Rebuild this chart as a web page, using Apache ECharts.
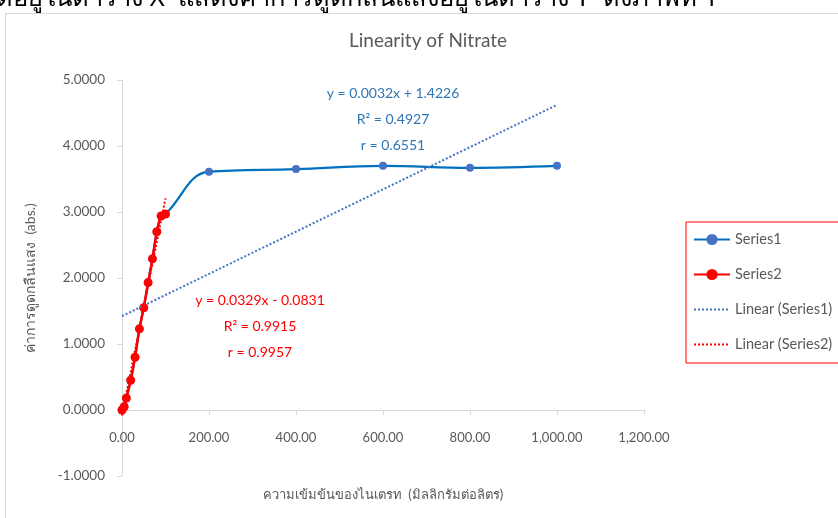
<!DOCTYPE html>
<html>
<head>
<meta charset="utf-8">
<script src="https://cdn.jsdelivr.net/npm/echarts@6/dist/echarts.min.js"></script>
<style>
html,body{margin:0;padding:0;background:#fff;}
#c{width:838px;height:518px;}
</style>
</head>
<body>
<div id="c"></div>
<script>
// ---- data ----
const concentration = [0, 5, 10, 20, 30, 40, 50, 60, 70, 80, 90, 100, 200, 400, 600, 800, 1000];
const series1Abs   = [0, 0.05, 0.18, 0.45, 0.80, 1.23, 1.55, 1.93, 2.29, 2.70, 2.94, 2.97, 3.61, 3.65, 3.70, 3.67, 3.70];
const series2Conc  = [0, 5, 10, 20, 30, 40, 50, 60, 70, 80, 90, 100];
const series2Abs   = [0, 0.05, 0.18, 0.45, 0.80, 1.23, 1.55, 1.93, 2.29, 2.70, 2.94, 2.97];
const trendSlope     = [0.0032, 0.0329];
const trendIntercept = [1.4226, -0.0831];
const trendXRange    = [[0, 1000], [0, 100]];
const seriesNames = ['Series1', 'Series2', 'Linear (Series1)', 'Linear (Series2)'];
const eqLabels1 = ['y = 0.0032x + 1.4226', 'R² = 0.4927', 'r = 0.6551'];
const eqLabels2 = ['y = 0.0329x - 0.0831', 'R² = 0.9915', 'r = 0.9957'];
const chartTitle = 'Linearity of Nitrate';
const xAxisTitle = 'ความเข้มข้นของไนเตรท  (มิลลิกรัมต่อลิตร)';
const yAxisTitle = 'ค่าการดูดกลืนแสง  (abs.)';
const captionText = 'ดอยู่ในตาราง X  แสดงค่าการดูดกลืนแสงอยู่ในตาราง Y  ดังภาพที่ 1';

const zip = (xs, ys) => xs.map((x, i) => [x, ys[i]]);
const trendData = k => trendXRange[k].map(x => [x, trendSlope[k] * x + trendIntercept[k]]);

const FONT = 'Lato';
const GRAY = '#595959';
const AXIS = '#D9D9D9';
const BLUE_LINE = '#0070C0';
const BLUE_MK = '#4472C4';
const RED = '#FF0000';
const BLUE_TXT = '#2E75B6';
const CLEAR = 'rgba(0,0,0,0)';

const chart = echarts.init(document.getElementById('c'), null, {renderer: 'canvas'});

function eqGraphic(lines, cx, y0, color) {
  return lines.map((t, i) => ({
    type: 'text', x: cx, y: y0 + i * 26, z: 100,
    style: {text: t, fill: color, font: '14px ' + FONT, align: 'center', verticalAlign: 'middle'}
  }));
}

chart.setOption({
  animation: false,
  backgroundColor: '#fff',
  title: {
    text: chartTitle, left: 428, top: 31, textAlign: 'center', padding: 0,
    textStyle: {color: GRAY, fontFamily: FONT, fontSize: 19, fontWeight: 'normal'}
  },
  graphic: [
    {type: 'rect', shape: {x: 5.5, y: 13.5, width: 900, height: 600}, style: {fill: 'none', stroke: AXIS, lineWidth: 1}, z: -10},
    {type: 'text', x: -4, y: 12, style: {text: captionText, fill: '#000', font: '25.5px "Noto Sans", sans-serif', verticalAlign: 'bottom'}},
    ...eqGraphic(eqLabels1, 393, 93, BLUE_TXT),
    ...eqGraphic(eqLabels2, 260, 300, RED)
  ],
  legend: {
    orient: 'vertical', left: 686, top: 222,
    data: seriesNames,
    borderColor: RED, borderWidth: 1,
    padding: [10, 40, 11, 7],
    itemWidth: 36, itemHeight: 14, itemGap: 20,
    textStyle: {color: GRAY, fontFamily: FONT, fontSize: 14.5}
  },
  grid: {left: 122, top: 80, width: 522, height: 396, containLabel: false, outerBoundsMode: 'none'},
  xAxis: {
    type: 'value', min: 0, max: 1200, interval: 200,
    name: xAxisTitle, nameLocation: 'middle', nameGap: 12,
    nameTextStyle: {color: GRAY, fontFamily: FONT, fontSize: 13},
    axisLine: {onZero: true, lineStyle: {color: AXIS, width: 1}},
    axisTick: {show: true, length: 5, lineStyle: {color: AXIS}},
    splitLine: {show: false},
    axisLabel: {color: GRAY, fontFamily: FONT, fontSize: 13, margin: -45,
      formatter: v => v.toLocaleString('en-US', {minimumFractionDigits: 2, maximumFractionDigits: 2})}
  },
  yAxis: {
    type: 'value', min: -1, max: 5, interval: 1,
    name: yAxisTitle, nameLocation: 'middle', nameGap: 85, nameRotate: 90,
    nameTextStyle: {color: GRAY, fontFamily: FONT, fontSize: 14},
    axisLine: {show: true, lineStyle: {color: AXIS, width: 1}},
    axisTick: {show: true, length: 5, lineStyle: {color: AXIS}},
    splitLine: {show: false},
    axisLabel: {color: GRAY, fontFamily: FONT, fontSize: 13.5, margin: 17,
      formatter: v => v.toFixed(4)}
  },
  series: [
    {
      name: seriesNames[0], type: 'line', data: zip(concentration, series1Abs),
      smooth: 0.4, symbol: 'circle', symbolSize: 8, z: 2,
      lineStyle: {color: BLUE_LINE, width: 2.25},
      itemStyle: {color: BLUE_MK}
    },
    {
      name: seriesNames[1], type: 'line', data: zip(series2Conc, series2Abs),
      smooth: 0.2, symbol: 'circle', symbolSize: 9, z: 3,
      lineStyle: {color: RED, width: 2.5},
      itemStyle: {color: RED}
    },
    {
      name: seriesNames[2], type: 'line', data: trendData(0),
      symbol: 'none', z: 4,
      lineStyle: {color: BLUE_MK, width: 2, type: 'dotted'},
      itemStyle: {color: CLEAR}
    },
    {
      name: seriesNames[3], type: 'line', data: trendData(1),
      symbol: 'none', z: 4,
      lineStyle: {color: RED, width: 2, type: 'dotted'},
      itemStyle: {color: CLEAR}
    }
  ]
});
</script>
</body>
</html>
